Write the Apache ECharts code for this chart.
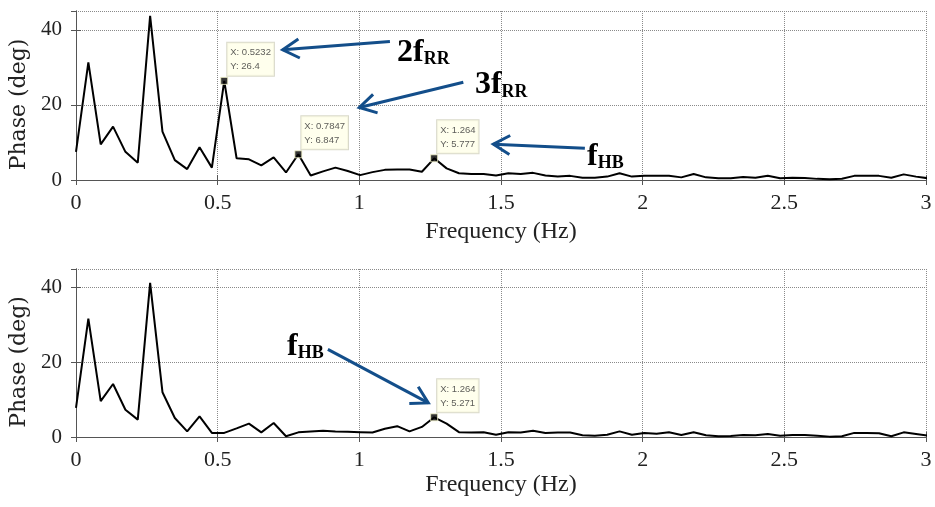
<!DOCTYPE html>
<html>
<head>
<meta charset="utf-8">
<title>Phase spectrum</title>
<script src="https://cdn.jsdelivr.net/npm/echarts@6/dist/echarts.min.js"></script>
<style>
    html, body { margin: 0; padding: 0; background: #fff; }
    #chart { width: 935px; height: 507px; }
</style>
</head>
<body>
<div id="chart"></div>
<script>
// frequency resolution of the spectrum (Hz per bin)
const freqStep = 0.0436;

// phase (deg), one value per bin
const phaseTop = [
    7.5, 31.3, 9.5, 14.2, 7.5, 4.6, 43.7, 12.9, 5.3, 2.9,
    8.7, 3.3, 26.4, 5.8, 5.5, 3.9, 6.0, 2.0, 6.847, 1.2,
    2.3, 3.3, 2.4, 1.3, 2.1, 2.7, 2.8, 2.8, 2.2, 5.777,
    3.1, 1.8, 1.6, 1.6, 1.2, 1.8, 1.6, 1.9, 1.2, 0.9,
    1.1, 0.6, 0.6, 0.9, 1.8, 0.9, 1.15, 1.1, 1.15, 0.7,
    1.6, 0.7, 0.45, 0.45, 0.8, 0.6, 1.15, 0.45, 0.6, 0.5,
    0.3, 0.2, 0.35, 1.1, 1.15, 1.1, 0.6, 1.5, 0.9, 0.45
];
const phaseBottom = [
    7.8, 31.7, 9.6, 14.2, 7.3, 4.65, 41.3, 12.0, 5.1, 1.5,
    5.5, 1.1, 1.1, 2.3, 3.6, 1.25, 3.75, 0.2, 1.25, 1.5,
    1.7, 1.5, 1.4, 1.3, 1.2, 2.2, 2.9, 1.5, 2.7, 5.271,
    3.6, 1.3, 1.2, 1.3, 0.6, 1.3, 1.2, 1.7, 1.1, 1.2,
    1.2, 0.45, 0.35, 0.6, 1.5, 0.6, 1.1, 0.9, 1.25, 0.55,
    1.25, 0.45, 0.2, 0.3, 0.55, 0.45, 0.8, 0.35, 0.55, 0.55,
    0.35, 0.1, 0.2, 1.1, 1.1, 1.0, 0.2, 1.25, 0.8, 0.35
];

// data tips [X, Y]
const tipsTop = [[0.5232, 26.4], [0.7847, 6.847], [1.264, 5.777]];
const tipsBottom = [[1.264, 5.271]];

// axis ranges / ticks
const xRange = [0, 3], xStep = 0.5;
const yRange = [0, 45], yStep = 20;

// arrow annotations, placed in data units of their panel
const notes = [
    { grid: 0, main: '2f', sub: 'RR', at: [1.133, 29.6], from: [1.108, 36.9], to: [0.7295, 34.67] },
    { grid: 0, main: '3f', sub: 'RR', at: [1.408, 21.0], from: [1.367, 26.05], to: [1.0, 19.3] },
    { grid: 0, main: 'f', sub: 'HB', at: [1.8035, 2.0], from: [1.796, 8.45], to: [1.473, 9.52] },
    { grid: 1, main: 'f', sub: 'HB', at: [0.7447, 20.0], from: [0.889, 23.46], to: [1.2434, 9.13] }
];

const toPairs = vals => vals.map((v, i) => [i * freqStep, v]);

const axisColor = '#555';
const textColor = '#222';
const arrowColor = '#134e8a';

function xAxisFor(grid, nameGap) {
    return [{
        type: 'value', gridIndex: grid, min: xRange[0], max: xRange[1], interval: xStep,
        name: 'Frequency (Hz)', nameLocation: 'middle', nameGap: nameGap,
        nameTextStyle: { fontFamily: 'Liberation Serif', fontSize: 24, color: textColor },
        axisLine: { show: true, lineStyle: { color: axisColor, width: 1 } },
        axisTick: { show: true, inside: true, length: 5, lineStyle: { color: axisColor } },
        axisLabel: { fontFamily: 'Liberation Serif', fontSize: 22, color: textColor, margin: 12 },
        splitLine: { show: true, lineStyle: { type: 'dotted', color: '#8a8a8a', width: 1 } }
    }, {
        type: 'value', gridIndex: grid, position: 'top', min: xRange[0], max: xRange[1], interval: xStep,
        axisLine: { show: true, lineStyle: { color: axisColor, width: 1 } },
        axisTick: { show: true, inside: true, length: 5, lineStyle: { color: axisColor } },
        axisLabel: { show: false }, splitLine: { show: false }
    }];
}

function yAxisFor(grid) {
    return [{
        type: 'value', gridIndex: grid, min: yRange[0], max: yRange[1], interval: yStep,
        name: 'Phase (deg)', nameLocation: 'middle', nameGap: 40, nameRotate: 90,
        // padding on the right pushes the rotated title a little lower
        nameTextStyle: { fontFamily: 'DejaVu Serif', fontSize: 22, color: textColor, padding: [0, 18, 0, 0] },
        axisLine: { show: true, lineStyle: { color: axisColor, width: 1 } },
        axisTick: { show: true, inside: true, length: 5, lineStyle: { color: axisColor } },
        axisLabel: { fontFamily: 'Liberation Serif', fontSize: 21, color: textColor, margin: 14, showMaxLabel: false },
        splitLine: { show: true, lineStyle: { type: 'dotted', color: '#8a8a8a', width: 1 } }
    }, {
        type: 'value', gridIndex: grid, position: 'right', min: yRange[0], max: yRange[1], interval: yStep,
        axisLine: { show: true, lineStyle: { color: axisColor, width: 1 } },
        axisTick: { show: true, inside: true, length: 5, lineStyle: { color: axisColor } },
        axisLabel: { show: false }, splitLine: { show: false }
    }];
}

function tipSeries(axisIdx, tips) {
    return {
        type: 'scatter', xAxisIndex: axisIdx, yAxisIndex: axisIdx, data: tips, z: 5,
        symbol: 'rect', symbolSize: 7,
        itemStyle: { color: '#000', borderColor: '#f2f2c8', borderWidth: 1 },
        label: {
            show: true, position: [7, -34], align: 'left', verticalAlign: 'top',
            formatter: p => 'X: ' + p.value[0] + '\nY: ' + p.value[1],
            fontFamily: 'Liberation Sans', fontSize: 9.5, lineHeight: 14, color: '#333',
            backgroundColor: '#ffffe8', borderColor: '#cfcfbd', borderWidth: 1, padding: [3, 3, 2, 3]
        },
        emphasis: { disabled: true }
    };
}

function lineSeries(axisIdx, vals) {
    return {
        type: 'line', xAxisIndex: axisIdx, yAxisIndex: axisIdx, data: toPairs(vals),
        showSymbol: false, lineStyle: { color: '#000', width: 2 }, clip: true, z: 3
    };
}

const chart = echarts.init(document.getElementById('chart'));
chart.setOption({
    animation: false,
    grid: [
        { left: 76, right: 9, top: 11, height: 169 },
        { left: 76, right: 9, top: 269, height: 168 }
    ],
    // axes: 0/1 -> top panel, 2/3 -> bottom panel
    xAxis: [...xAxisFor(0, 40), ...xAxisFor(1, 36)],
    yAxis: [...yAxisFor(0), ...yAxisFor(1)],
    series: [
        lineSeries(0, phaseTop),
        tipSeries(0, tipsTop),
        lineSeries(2, phaseBottom),
        tipSeries(2, tipsBottom)
    ]
});

// arrows + labels
const graphics = [];
notes.forEach(n => {
    const px = v => chart.convertToPixel({ gridIndex: n.grid }, v);
    const a = px(n.from), b = px(n.to), t = px(n.at);
    const len = Math.hypot(a[0] - b[0], a[1] - b[1]);
    const ux = (a[0] - b[0]) / len, uy = (a[1] - b[1]) / len;
    const ang = 30 * Math.PI / 180, hl = 19;
    const arm = s => [
        b[0] + hl * (ux * Math.cos(s * ang) - uy * Math.sin(s * ang)),
        b[1] + hl * (ux * Math.sin(s * ang) + uy * Math.cos(s * ang))
    ];
    graphics.push({
        type: 'line', z: 10, shape: { x1: a[0], y1: a[1], x2: b[0], y2: b[1] },
        style: { stroke: arrowColor, lineWidth: 3 }
    });
    graphics.push({
        type: 'polyline', z: 10, shape: { points: [arm(1), b, arm(-1)] },
        style: { stroke: arrowColor, lineWidth: 3, fill: null }
    });
    graphics.push({
        type: 'text', z: 10, x: t[0], y: t[1],
        style: {
            text: '{a|' + n.main + '}{b|' + n.sub + '}', align: 'left', verticalAlign: 'bottom',
            rich: {
                a: { fontFamily: 'Liberation Serif', fontWeight: 'bold', fontSize: 32, fill: '#000', verticalAlign: 'bottom' },
                b: { fontFamily: 'Liberation Serif', fontWeight: 'bold', fontSize: 18, fill: '#000', verticalAlign: 'bottom' }
            }
        }
    });
});
chart.setOption({ graphic: graphics });
</script>
</body>
</html>
